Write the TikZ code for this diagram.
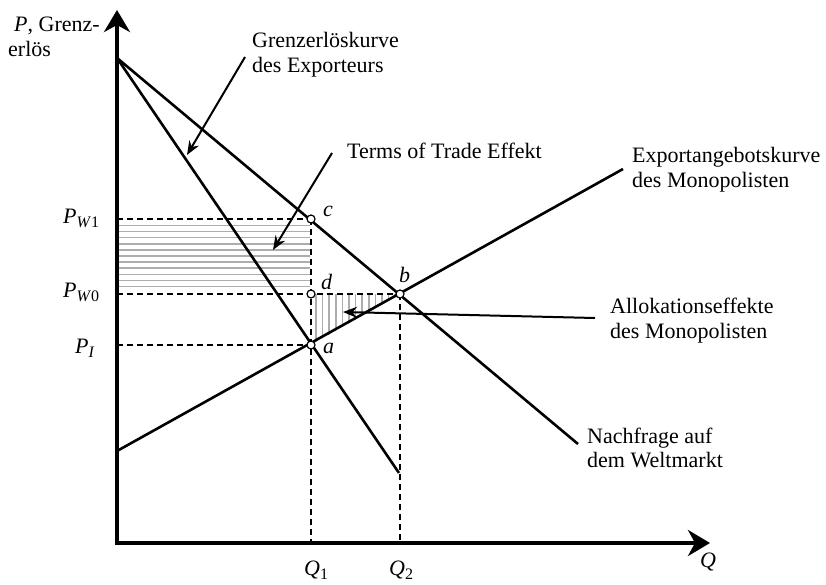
\documentclass[tikz,border=0pt]{standalone}
\usepackage{fontspec}
\setmainfont{Liberation Serif}
\usetikzlibrary{arrows.meta}
\newcommand{\mysub}[1]{\raisebox{-0.22em}{\fontsize{16}{18}\selectfont #1}}
\begin{document}
\begin{tikzpicture}[x=1pt,y=-1pt,
  txt/.style={anchor=base west, inner sep=0pt, font=\fontsize{22}{26}\selectfont},
  mlbl/.style={anchor=base west, inner sep=0pt, font=\fontsize{22}{26}\selectfont\itshape},
  curve/.style={line width=2.6pt},
  axisline/.style={line width=4pt, -{Stealth[length=22pt,width=26pt,inset=7pt]}},
  guide/.style={line width=1.6pt, dash pattern=on 6pt off 4pt},
  pointer/.style={line width=2pt, -{Stealth[length=14pt,width=11pt]}},
  dot/.style={circle, draw, fill=white, line width=1.2pt, inner sep=0pt, minimum size=8pt},
  hatch/.style={line width=1.5pt, black!32}
]
\useasboundingbox (0,0) rectangle (826,585);

% key coordinates
\coordinate (O) at (117,543);
\coordinate (Ytop) at (117,10);
\coordinate (Xend) at (710,543);
\coordinate (D0) at (117,58);
\coordinate (Dend) at (578,444);
\coordinate (MRend) at (399,473);
\coordinate (S0) at (117,451);
\coordinate (S1) at (623,169);
\coordinate (A) at (311,345);
\coordinate (B) at (400,294);
\coordinate (C) at (311,219);
\coordinate (Dd) at (311,294);
\coordinate (yW1) at (117,219);
\coordinate (yW0) at (117,294);
\coordinate (yI) at (117,345);
\coordinate (q1) at (311,543);
\coordinate (q2) at (400,543);

% hatching: terms of trade rectangle
\foreach \i in {0,...,10} {
  \draw[hatch] (119,225.5+6.1*\i) -- (310,225.5+6.1*\i);
}
% hatching: allocation triangle
\begin{scope}
  \clip (Dd) -- (B) -- (A) -- cycle;
  \foreach \i in {0,...,13} {
    \draw[hatch] (316+6.6*\i,290) -- (316+6.6*\i,350);
  }
\end{scope}

% dashed guide lines
\draw[guide] (yW1) -- (C);
\draw[guide] (yW0) -- (B);
\draw[guide] (yI) -- (A);
\draw[guide] (C) -- (q1);
\draw[guide] (B) -- (q2);

% curves
\draw[curve] (D0) -- (Dend);
\draw[curve] (D0) -- (MRend);
\draw[curve] (S0) -- (S1);

% axes
\draw[axisline] (117,545) -- (Ytop);
\draw[axisline] (115,543) -- (Xend);

% points
\node[dot] (pc) at (C) {};
\node[dot] (pd) at (Dd) {};
\node[dot] (pb) at (B) {};
\node[dot] (pa) at (A) {};

% point labels
\node[mlbl] (lc) at (323,217) {c};
\node[mlbl] (ld) at (321,289) {d};
\node[mlbl] (lb) at (399,282) {b};
\node[mlbl] (la) at (323,353) {a};

% axis labels
\node[txt] (yl1) at (14,32) {\textit{P}, Grenz-};
\node[txt] (yl2) at (8,57) {erlös};
\node[txt] (lq1) at (304,575) {\textit{Q}\mysub{1}};
\node[txt] (lq2) at (389,575) {\textit{Q}\mysub{2}};
\node[txt] (lq) at (700,567) {\textit{Q}};
\node[txt] (lpw1) at (63,223) {\textit{P}\mysub{\textit{W}1}};
\node[txt] (lpw0) at (63,297) {\textit{P}\mysub{\textit{W}0}};
\node[txt] (lpi) at (75,353) {\textit{P}\mysub{\textit{I}}};

% annotation texts
\node[txt] (g1) at (252,48) {Grenzerlöskurve};
\node[txt] (g2) at (252,73) {des Exporteurs};
\node[txt] (tt) at (347,159) {Terms of Trade Effekt};
\node[txt] (e1) at (632,163) {Exportangebotskurve};
\node[txt] (e2) at (632,188) {des Monopolisten};
\node[txt] (al1) at (610,313) {Allokationseffekte};
\node[txt] (al2) at (610,338) {des Monopolisten};
\node[txt] (n1) at (587,443) {Nachfrage auf};
\node[txt] (n2) at (587,467) {dem Weltmarkt};

% pointer arrows
\coordinate (gs) at (245,57);
\coordinate (ge) at (187,155);
\coordinate (ts) at (332,153);
\coordinate (te) at (273,250);
\coordinate (as) at (595,318);
\coordinate (ae) at (343,312);
\draw[pointer] (gs) -- (ge);
\draw[pointer] (ts) -- (te);
\draw[pointer] (as) -- (ae);
\end{tikzpicture}
\end{document}
